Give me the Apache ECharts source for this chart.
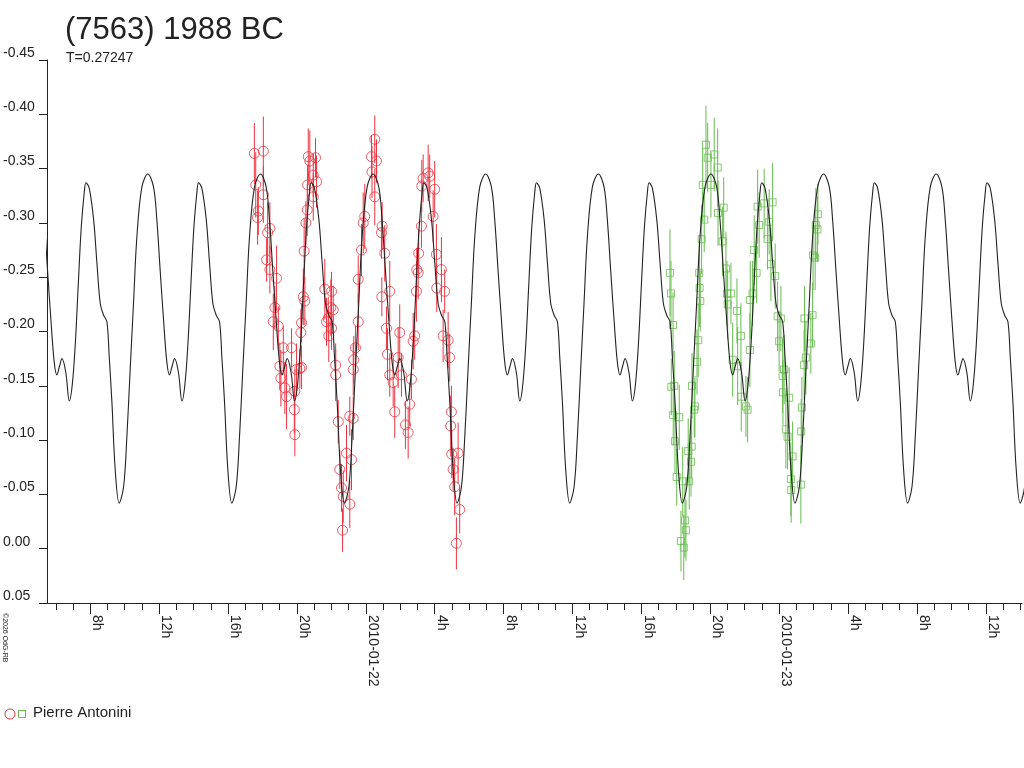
<!DOCTYPE html>
<html>
<head>
<meta charset="utf-8">
<script src="https://cdn.jsdelivr.net/npm/echarts@6.0.0/dist/echarts.min.js"></script>
<style>
  html, body { margin: 0; padding: 0; background: #fff; }
  #chart { width: 1024px; height: 768px; }
</style>
</head>
<body>
<div id="chart"></div>
<script>
// time in hours since 2010-01-21 00:00 UT, magnitude difference (smaller = brighter)
var tMin = 5.49, tMax = 62.1;

// one period of the fitted curve (phase in hours from the shallow minimum)
var fitStart = 6.783;
var period = 6.5393; // T = 0.27247 d
var fitPhase = [0, 0.174, 0.348, 0.522, 0.696, 0.870, 0.968, 1.159, 1.414, 1.606, 1.797, 1.994, 2.186, 2.319, 2.475, 2.667, 2.899, 3.154, 3.345, 3.536, 3.733, 3.925, 4.214, 4.562, 4.893, 5.084, 5.275, 5.472, 5.664, 5.820, 5.971, 6.116, 6.342];
var fitMag = [-0.136, -0.151, -0.188, -0.243, -0.296, -0.328, -0.337, -0.332, -0.303, -0.263, -0.226, -0.215, -0.209, -0.177, -0.135, -0.073, -0.042, -0.057, -0.103, -0.165, -0.227, -0.287, -0.333, -0.345, -0.333, -0.303, -0.257, -0.211, -0.172, -0.160, -0.168, -0.175, -0.162];

// session 1 (red circles)
var redT = [17.53,17.61,17.72,17.76,18.05,18.05,18.24,18.30,18.43,18.43,
  18.63,18.72,18.82,18.92,19.01,19.07,19.21,19.30,19.40,19.69,
  19.85,19.88,19.88,19.98,20.17,20.23,20.27,20.27,20.37,20.42,
  20.46,20.52,20.60,20.62,20.66,20.75,20.95,20.95,21.08,21.14,
  21.62,21.72,21.82,21.85,21.97,22.01,22.01,22.11,22.25,22.25,
  22.40,22.49,22.59,22.65,22.69,22.88,23.07,23.07,23.17,23.27,
  23.27,23.30,23.40,23.56,23.56,23.75,23.85,23.94,24.33,24.36,
  24.52,24.52,24.62,24.91,24.95,24.93,25.10,25.20,25.26,25.39,
  25.39,25.59,25.68,25.88,25.97,26.07,26.30,26.46,26.55,26.65,
  26.75,26.84,26.94,26.96,27.04,27.07,27.23,27.25,27.33,27.62,
  27.71,27.91,28.00,28.10,28.12,28.39,28.49,28.58,28.78,28.87,
  28.93,28.97,28.99,29.07,29.16,29.26,29.36,29.45];
var redMag = [-0.364,-0.335,-0.305,-0.311,-0.366,-0.326,-0.266,-0.291,-0.295,-0.257,
  -0.209,-0.222,-0.249,-0.205,-0.168,-0.157,-0.185,-0.148,-0.140,-0.185,
  -0.128,-0.145,-0.105,-0.165,-0.166,-0.199,-0.208,-0.167,-0.232,-0.274,
  -0.228,-0.300,-0.312,-0.335,-0.361,-0.357,-0.344,-0.324,-0.360,-0.338,
  -0.239,-0.209,-0.212,-0.196,-0.222,-0.237,-0.203,-0.220,-0.169,-0.160,
  -0.117,-0.073,-0.056,-0.017,-0.048,-0.088,-0.041,-0.122,-0.082,-0.120,
  -0.165,-0.174,-0.185,-0.209,-0.248,-0.275,-0.300,-0.306,-0.361,-0.347,
  -0.377,-0.324,-0.357,-0.291,-0.297,-0.232,-0.272,-0.203,-0.179,-0.237,
  -0.160,-0.153,-0.126,-0.176,-0.199,-0.160,-0.114,-0.107,-0.133,-0.156,
  -0.191,-0.196,-0.237,-0.257,-0.254,-0.272,-0.297,-0.334,-0.341,-0.346,
  -0.343,-0.306,-0.331,-0.271,-0.240,-0.257,-0.196,-0.237,-0.192,-0.176,
  -0.113,-0.126,-0.087,-0.073,-0.057,-0.005,-0.088,-0.036];
var redErr = [0.028,0.030,0.025,0.022,0.032,0.026,0.020,0.028,0.024,0.022,
  0.026,0.020,0.030,0.018,0.022,0.026,0.020,0.024,0.030,0.018,
  0.022,0.020,0.020,0.024,0.018,0.022,0.018,0.020,0.026,0.030,
  0.022,0.020,0.024,0.018,0.026,0.028,0.020,0.022,0.018,0.024,
  0.028,0.022,0.020,0.024,0.026,0.018,0.020,0.022,0.020,0.024,
  0.020,0.018,0.022,0.020,0.024,0.026,0.022,0.018,0.028,0.020,
  0.024,0.022,0.020,0.026,0.022,0.024,0.028,0.030,0.020,0.024,
  0.022,0.026,0.020,0.024,0.022,0.018,0.026,0.020,0.024,0.028,
  0.020,0.022,0.024,0.028,0.026,0.020,0.022,0.024,0.020,0.018,
  0.026,0.022,0.028,0.020,0.024,0.022,0.020,0.024,0.022,0.026,
  0.020,0.024,0.026,0.028,0.022,0.030,0.024,0.020,0.026,0.022,
  0.028,0.024,0.022,0.020,0.026,0.024,0.028,0.022];

// session 2 (green squares)
var greenT = [41.66,41.72,41.74,41.84,41.85,41.91,41.95,42.05,42.20,42.30,
  42.40,42.46,42.53,42.59,42.72,42.78,42.88,42.92,42.94,43.07,
  43.11,43.23,43.30,43.36,43.38,43.42,43.50,43.56,43.65,43.75,
  43.85,44.04,44.23,44.43,44.45,44.72,44.78,44.91,44.97,45.01,
  45.20,45.30,45.55,45.59,45.78,45.80,46.07,46.17,46.30,46.32,
  46.46,46.55,46.69,46.75,46.84,47.13,47.33,47.42,47.52,47.62,
  47.77,47.91,48.00,48.10,48.20,48.22,48.29,48.39,48.49,48.58,
  48.68,48.70,48.78,49.26,49.28,49.32,49.45,49.47,49.55,49.84,
  49.94,49.97,50.09,50.13,50.23,50.25];
var greenMag = [-0.254,-0.235,-0.149,-0.206,-0.123,-0.150,-0.099,-0.066,-0.121,-0.007,
  -0.062,-0.001,-0.026,-0.017,-0.090,-0.062,-0.080,-0.094,-0.150,-0.128,
  -0.131,-0.172,-0.192,-0.254,-0.240,-0.228,-0.285,-0.335,-0.303,-0.372,
  -0.360,-0.335,-0.363,-0.351,-0.309,-0.283,-0.314,-0.258,-0.235,-0.225,
  -0.235,-0.174,-0.219,-0.168,-0.196,-0.140,-0.131,-0.128,-0.183,-0.229,
  -0.235,-0.275,-0.254,-0.315,-0.298,-0.318,-0.285,-0.301,-0.262,-0.319,
  -0.251,-0.214,-0.191,-0.212,-0.159,-0.144,-0.165,-0.110,-0.103,-0.139,
  -0.064,-0.054,-0.085,-0.059,-0.108,-0.130,-0.169,-0.212,-0.176,-0.189,
  -0.215,-0.270,-0.268,-0.298,-0.294,-0.308];
var greenErr = [0.040,0.030,0.026,0.030,0.028,0.032,0.030,0.026,0.030,0.028,
  0.032,0.030,0.034,0.028,0.030,0.026,0.032,0.028,0.030,0.026,
  0.028,0.030,0.034,0.030,0.036,0.028,0.032,0.034,0.030,0.036,
  0.032,0.030,0.034,0.036,0.030,0.032,0.028,0.034,0.030,0.032,
  0.028,0.034,0.030,0.036,0.030,0.032,0.028,0.030,0.034,0.036,
  0.030,0.032,0.028,0.034,0.030,0.032,0.028,0.030,0.034,0.036,
  0.030,0.032,0.028,0.030,0.034,0.030,0.032,0.036,0.030,0.028,
  0.034,0.030,0.032,0.036,0.030,0.028,0.032,0.030,0.034,0.028,
  0.030,0.032,0.030,0.034,0.030,0.028];

// axis ticks
var hourTicks = [];
for (var h = 6; h <= 62; h++) hourTicks.push(h);
var labelTicks = [8, 12, 16, 20, 24, 28, 32, 36, 40, 44, 48, 52, 56, 60];
var dayNames = { 24: '2010-01-22', 48: '2010-01-23' };

var RED = '#ee3340', GREEN = '#66bd4e', INK = '#222';
var FONT = '"Liberation Sans", Arial, sans-serif';

function points(ts, ms, es) {
  var res = [];
  for (var i = 0; i < ts.length; i++) res.push([ts[i], ms[i], es ? es[i] : 0]);
  return res;
}

// the fit repeats with period T
var fitData = [];
for (var k = -1; k <= 9; k++) {
  for (var i = 0; i < fitPhase.length; i++) {
    var t = fitStart + k * period + fitPhase[i];
    if (t > tMin - 0.8 && t < tMax + 0.8) fitData.push([t, fitMag[i]]);
  }
}

function errorBars(color) {
  return function (params, api) {
    var t = api.value(0), m = api.value(1), e = api.value(2);
    var a = api.coord([t, m - e]);
    var b = api.coord([t, m + e]);
    return {
      type: 'line',
      shape: { x1: a[0], y1: a[1], x2: b[0], y2: b[1] },
      style: { stroke: color, lineWidth: 1 }
    };
  };
}

var myChart = echarts.init(document.getElementById('chart'));
var option = {
  animation: false,
  backgroundColor: '#fff',
  textStyle: { fontFamily: FONT },
  title: [
    { text: '(7563) 1988 BC', left: 60, top: 10,
      textStyle: { fontSize: 31, fontWeight: 'normal', color: INK, fontFamily: FONT } },
    { text: 'T=0.27247', left: 61, top: 46,
      textStyle: { fontSize: 14, fontWeight: 'normal', color: INK, fontFamily: FONT } }
  ],
  grid: { left: 45, right: 2, top: 60, bottom: 165 },
  xAxis: [
    {
      type: 'value', min: tMin, max: tMax, position: 'bottom',
      axisLine: { onZero: false, lineStyle: { color: INK, width: 1 } },
      axisTick: { customValues: hourTicks, length: 7, lineStyle: { color: INK } },
      axisLabel: { show: false },
      splitLine: { show: false }
    },
    {
      type: 'value', min: tMin, max: tMax, position: 'bottom',
      axisLine: { show: false, onZero: false },
      axisTick: { customValues: labelTicks, length: 11, lineStyle: { color: INK } },
      axisLabel: {
        customValues: labelTicks,
        rotate: -90, margin: 12, align: 'left', verticalAlign: 'bottom',
        fontSize: 14, color: INK, fontFamily: FONT,
        formatter: function (v) {
          v = Math.round(v);
          return dayNames[v] || ((v % 24) + 'h');
        }
      },
      splitLine: { show: false }
    }
  ],
  yAxis: {
    type: 'value', inverse: true, min: -0.45, max: 0.05, interval: 0.05,
    axisLine: { show: true, onZero: false, lineStyle: { color: INK, width: 1 } },
    axisTick: { show: true, length: 8, lineStyle: { color: INK } },
    axisLabel: {
      align: 'left', margin: 44, verticalAlign: 'bottom',
      fontSize: 14, color: INK, fontFamily: FONT,
      formatter: function (v) {
        if (Math.abs(v) < 1e-9) v = 0;
        return v.toFixed(2);
      }
    },
    splitLine: { show: false }
  },
  graphic: [
    { type: 'text', x: 1, y: 613, rotation: -Math.PI / 2,
      style: { text: '©2026 OdG-RB', fontSize: 7, fill: INK, fontFamily: FONT,
               textAlign: 'left', textVerticalAlign: 'bottom' } },
    { type: 'circle', shape: { cx: 10, cy: 714, r: 5 },
      style: { fill: 'none', stroke: RED, lineWidth: 1 } },
    { type: 'rect', shape: { x: 18.5, y: 710.5, width: 7, height: 7 },
      style: { fill: 'none', stroke: GREEN, lineWidth: 1 } },
    { type: 'text', x: 33, y: 713,
      style: { text: 'Pierre Antonini', fontSize: 15, fill: INK, fontFamily: FONT,
               textVerticalAlign: 'middle' } }
  ],
  series: [
    {
      name: 'err1', type: 'custom', xAxisIndex: 0, clip: true, z: 2,
      renderItem: errorBars(RED), encode: { x: 0, y: 1 },
      data: points(redT, redMag, redErr)
    },
    {
      name: 'Pierre Antonini', type: 'scatter', xAxisIndex: 0, z: 3,
      symbol: 'circle', symbolSize: 10,
      itemStyle: { color: 'rgba(255,255,255,0)', borderColor: RED, borderWidth: 1 },
      data: points(redT, redMag)
    },
    {
      name: 'err2', type: 'custom', xAxisIndex: 0, clip: true, z: 2,
      renderItem: errorBars(GREEN), encode: { x: 0, y: 1 },
      data: points(greenT, greenMag, greenErr)
    },
    {
      name: 'Pierre Antonini 2', type: 'scatter', xAxisIndex: 0, z: 3,
      symbol: 'rect', symbolSize: 7,
      itemStyle: { color: 'rgba(255,255,255,0)', borderColor: GREEN, borderWidth: 1 },
      data: points(greenT, greenMag)
    },
    {
      name: 'fit', type: 'line', xAxisIndex: 0, z: 5,
      showSymbol: false, smooth: 0.35,
      lineStyle: { color: INK, width: 1.1 },
      data: fitData
    }
  ]
};
myChart.setOption(option);
</script>
</body>
</html>
